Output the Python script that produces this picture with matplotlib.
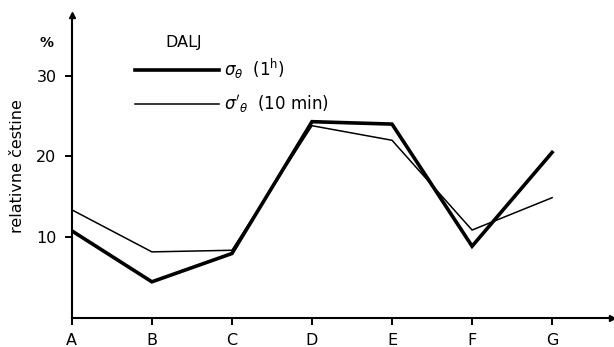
import matplotlib
matplotlib.use("Agg")
import matplotlib.pyplot as plt

# postaje i relativne čestine (%)
categories = ["A", "B", "C", "D", "E", "F", "G"]
sigma_1h = [10.8, 4.5, 8.0, 24.3, 24.0, 8.9, 20.5]
sigma_10min = [13.4, 8.2, 8.4, 23.8, 22.0, 10.9, 14.9]
yticks = [10, 20, 30]

plt.rcParams["font.family"] = ["DejaVu Sans"]
plt.rcParams["mathtext.fontset"] = "dejavusans"

fig = plt.figure(figsize=(6.14, 3.47), dpi=100)
ax = fig.add_axes([0.117, 0.083, 0.88, 0.874])

x = list(range(len(categories)))
ax.plot(x, sigma_1h, color="black", linewidth=2.6, solid_joinstyle="miter",
        label=r"$\sigma_\theta$  $(1^{\rm h})$")
ax.plot(x, sigma_10min, color="black", linewidth=1.1, solid_joinstyle="miter",
        label=r"$\sigma'_\theta$  (10 min)")

ax.set_xlim(0, 6.75)
ax.set_ylim(0, 37.5)

for s in ["top", "right"]:
    ax.spines[s].set_visible(False)
for s in ["left", "bottom"]:
    ax.spines[s].set_linewidth(1.5)

# strelice na krajevima osi
ax.plot(1, 0, ">k", markersize=5, transform=ax.transAxes, clip_on=False)
ax.plot(0, 1, "^k", markersize=5, transform=ax.transAxes, clip_on=False)

ax.set_xticks(x)
ax.set_xticklabels(categories, fontsize=11.5)
ax.set_yticks(yticks)
ax.set_yticklabels([str(v) for v in yticks], fontsize=11.5)
ax.tick_params(direction="out", length=5, width=1.4, pad=6)

ax.set_ylabel("relativne čestine", fontsize=11.5, labelpad=8)
fig.text(0.075, 0.875, "%", fontsize=10, fontweight="bold", ha="center", va="center")

fig.text(0.27, 0.878, "DALJ", fontsize=11.5, ha="left", va="center")
leg = ax.legend(loc="upper left", bbox_to_anchor=(0.09, 0.91), frameon=False,
                handlelength=5.0, handletextpad=0.3, labelspacing=0.7, fontsize=12)

fig.savefig("out.png", dpi=100)
